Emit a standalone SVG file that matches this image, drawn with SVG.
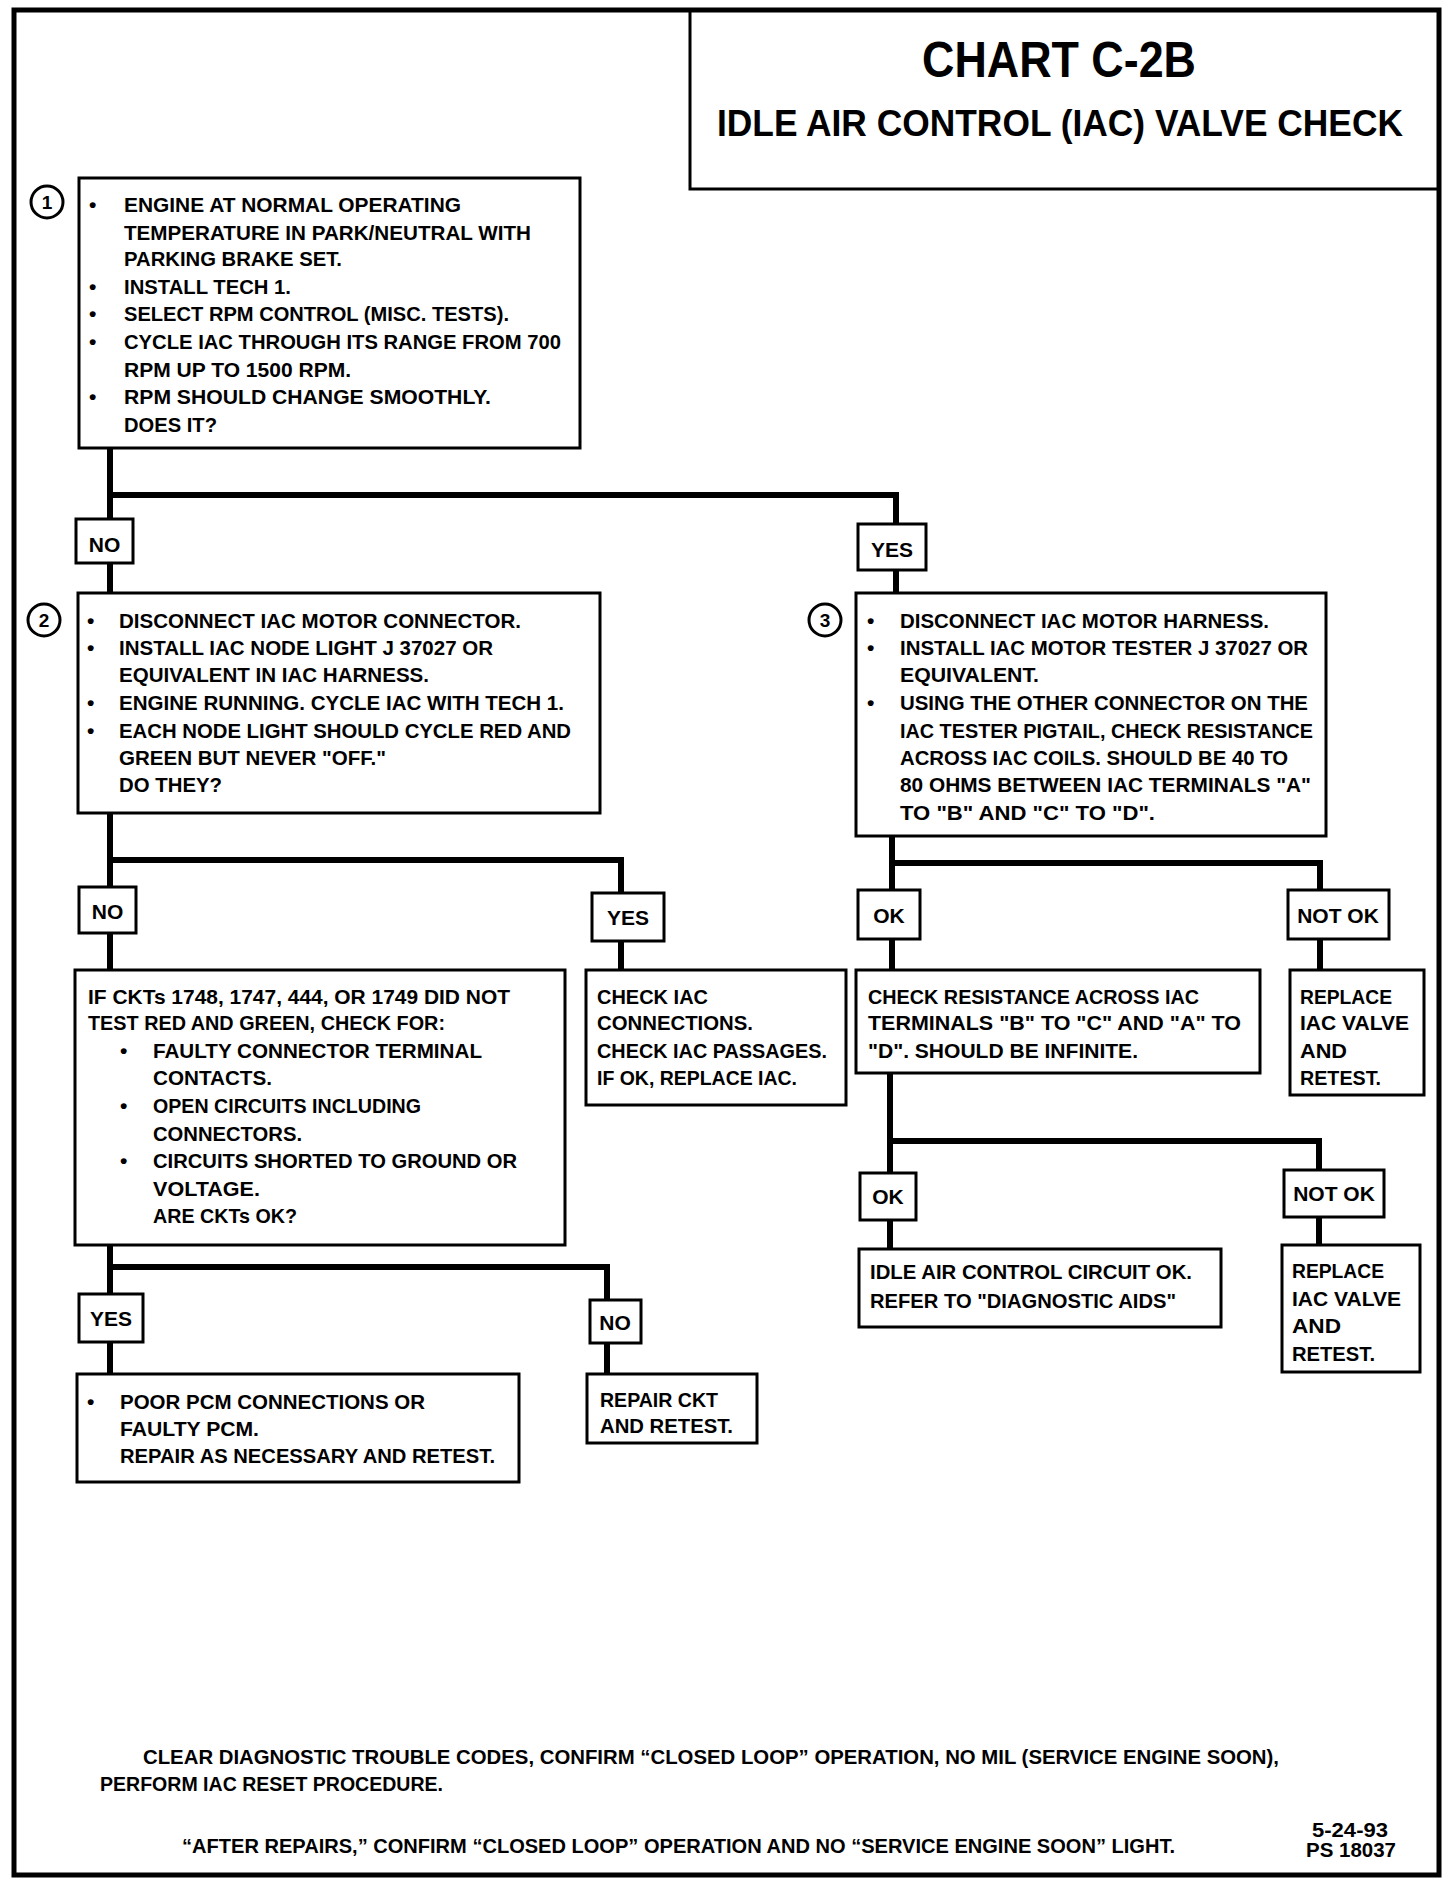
<svg xmlns="http://www.w3.org/2000/svg" width="1456" height="1884" viewBox="0 0 1456 1884">
<style>
.bg{fill:#fff}
.frame{fill:none;stroke:#000;stroke-width:5}
.box{fill:#fff;stroke:#000;stroke-width:3}
.wire{fill:none;stroke:#000;stroke-width:6;stroke-linejoin:miter}
.t{font-family:"Liberation Sans",Arial,sans-serif;font-weight:bold;font-size:21px;fill:#000}
.lab{font-family:"Liberation Sans",Arial,sans-serif;font-weight:bold;font-size:21px;fill:#000;text-anchor:middle}
.num{font-family:"Liberation Sans",Arial,sans-serif;font-weight:bold;font-size:19px;fill:#000;text-anchor:middle}
.ring{fill:#fff;stroke:#000;stroke-width:3}
.title{font-family:"Liberation Sans",Arial,sans-serif;font-weight:bold;fill:#000;text-anchor:middle}
</style>
<rect class="bg" x="0" y="0" width="1456" height="1884"/>
<rect class="frame" x="14" y="10" width="1425" height="1865"/>

<g id="title">
<path d="M690 10 V189 H1439" class="frame" style="stroke-width:3"/>
<text class="title" x="1059" y="77" font-size="50" textLength="274" lengthAdjust="spacingAndGlyphs">CHART C-2B</text>
<text class="title" x="1060" y="136" font-size="37" textLength="686" lengthAdjust="spacingAndGlyphs">IDLE AIR CONTROL (IAC) VALVE CHECK</text>
</g>

<g id="connectors">
<path class="wire" d="M110 448 V520 M110 495 H896 V526 M110 563 V593 M896 569 V593"/>
<path class="wire" d="M110 813 V887 M110 860 H621 V893 M110 933 V970 M621 941 V970"/>
<path class="wire" d="M892 836 V890 M892 863 H1320 V890 M892 939 V970 M1320 939 V970"/>
<path class="wire" d="M890 1073 V1173 M890 1141 H1319 V1170 M890 1220 V1249 M1319 1217 V1245"/>
<path class="wire" d="M110 1245 V1294 M110 1267 H607 V1300 M110 1342 V1374 M607 1343 V1374"/>
</g>

<g id="n1">
<circle class="ring" cx="47" cy="202" r="16"/>
<text class="num" x="47" y="209">1</text>
<rect class="box" x="79" y="178" width="501" height="270"/>
<text class="t" x="89" y="212">•</text><text class="t" x="124" y="212" textLength="337" lengthAdjust="spacingAndGlyphs">ENGINE AT NORMAL OPERATING</text>
<text class="t" x="124" y="239.5" textLength="407" lengthAdjust="spacingAndGlyphs">TEMPERATURE IN PARK/NEUTRAL WITH</text>
<text class="t" x="124" y="266" textLength="218" lengthAdjust="spacingAndGlyphs">PARKING BRAKE SET.</text>
<text class="t" x="89" y="293.6">•</text><text class="t" x="124" y="293.6" textLength="167" lengthAdjust="spacingAndGlyphs">INSTALL TECH 1.</text>
<text class="t" x="89" y="321">•</text><text class="t" x="124" y="321" textLength="385" lengthAdjust="spacingAndGlyphs">SELECT RPM CONTROL  (MISC. TESTS).</text>
<text class="t" x="89" y="349">•</text><text class="t" x="124" y="349" textLength="437" lengthAdjust="spacingAndGlyphs">CYCLE IAC THROUGH ITS RANGE FROM 700</text>
<text class="t" x="124" y="376.6" textLength="227" lengthAdjust="spacingAndGlyphs">RPM UP TO 1500 RPM.</text>
<text class="t" x="89" y="404">•</text><text class="t" x="124" y="404" textLength="367" lengthAdjust="spacingAndGlyphs">RPM SHOULD CHANGE SMOOTHLY.</text>
<text class="t" x="124" y="432" textLength="93" lengthAdjust="spacingAndGlyphs">DOES IT?</text>
</g>

<g id="l-no1"><rect class="box" x="76" y="519" width="57" height="44"/><text class="lab" x="104.5" y="552">NO</text></g>
<g id="l-yes1"><rect class="box" x="858" y="524" width="68" height="46"/><text class="lab" x="892" y="557">YES</text></g>

<g id="n2">
<circle class="ring" cx="44" cy="620" r="16"/>
<text class="num" x="44" y="627">2</text>
<rect class="box" x="78" y="593" width="522" height="220"/>
<text class="t" x="87" y="628">•</text><text class="t" x="119" y="628" textLength="402" lengthAdjust="spacingAndGlyphs">DISCONNECT IAC MOTOR CONNECTOR.</text>
<text class="t" x="87" y="654.6">•</text><text class="t" x="119" y="654.6" textLength="374" lengthAdjust="spacingAndGlyphs">INSTALL IAC NODE LIGHT J 37027 OR</text>
<text class="t" x="119" y="682" textLength="310" lengthAdjust="spacingAndGlyphs">EQUIVALENT IN IAC HARNESS.</text>
<text class="t" x="87" y="710">•</text><text class="t" x="119" y="710" textLength="445" lengthAdjust="spacingAndGlyphs">ENGINE RUNNING.  CYCLE IAC WITH TECH 1.</text>
<text class="t" x="87" y="737.6">•</text><text class="t" x="119" y="737.6" textLength="452" lengthAdjust="spacingAndGlyphs">EACH NODE LIGHT SHOULD CYCLE RED AND</text>
<text class="t" x="119" y="765" textLength="267" lengthAdjust="spacingAndGlyphs">GREEN BUT NEVER "OFF."</text>
<text class="t" x="119" y="792" textLength="103" lengthAdjust="spacingAndGlyphs">DO THEY?</text>
</g>

<g id="n3">
<circle class="ring" cx="825" cy="620" r="16"/>
<text class="num" x="825" y="627">3</text>
<rect class="box" x="856" y="593" width="470" height="243"/>
<text class="t" x="867" y="628">•</text><text class="t" x="900" y="628" textLength="369" lengthAdjust="spacingAndGlyphs">DISCONNECT IAC MOTOR HARNESS.</text>
<text class="t" x="867" y="654.6">•</text><text class="t" x="900" y="654.6" textLength="408" lengthAdjust="spacingAndGlyphs">INSTALL IAC MOTOR TESTER J 37027 OR</text>
<text class="t" x="900" y="682" textLength="139" lengthAdjust="spacingAndGlyphs">EQUIVALENT.</text>
<text class="t" x="867" y="710">•</text><text class="t" x="900" y="710" textLength="408" lengthAdjust="spacingAndGlyphs">USING THE OTHER CONNECTOR ON THE</text>
<text class="t" x="900" y="737.6" textLength="413" lengthAdjust="spacingAndGlyphs">IAC TESTER PIGTAIL, CHECK RESISTANCE</text>
<text class="t" x="900" y="765" textLength="388" lengthAdjust="spacingAndGlyphs">ACROSS IAC COILS.  SHOULD BE 40 TO</text>
<text class="t" x="900" y="792" textLength="411" lengthAdjust="spacingAndGlyphs">80 OHMS BETWEEN IAC TERMINALS "A"</text>
<text class="t" x="900" y="819.5" textLength="255" lengthAdjust="spacingAndGlyphs">TO "B" AND "C" TO "D".</text>
</g>

<g id="l-no2"><rect class="box" x="79" y="887" width="57" height="46"/><text class="lab" x="107.5" y="919">NO</text></g>
<g id="l-yes2"><rect class="box" x="592" y="893" width="72" height="48"/><text class="lab" x="628" y="925">YES</text></g>
<g id="l-ok1"><rect class="box" x="858" y="890" width="62" height="49"/><text class="lab" x="889" y="923">OK</text></g>
<g id="l-notok1"><rect class="box" x="1288" y="890" width="101" height="49"/><text class="lab" x="1338" y="923">NOT OK</text></g>

<g id="n4">
<rect class="box" x="75" y="970" width="490" height="275"/>
<text class="t" x="88" y="1003.5" textLength="422" lengthAdjust="spacingAndGlyphs">IF CKTs 1748, 1747, 444, OR 1749 DID NOT</text>
<text class="t" x="88" y="1030" textLength="357" lengthAdjust="spacingAndGlyphs">TEST RED AND GREEN, CHECK FOR:</text>
<text class="t" x="120" y="1058">•</text><text class="t" x="153" y="1058" textLength="329" lengthAdjust="spacingAndGlyphs">FAULTY CONNECTOR TERMINAL</text>
<text class="t" x="153" y="1085" textLength="119" lengthAdjust="spacingAndGlyphs">CONTACTS.</text>
<text class="t" x="120" y="1113">•</text><text class="t" x="153" y="1113" textLength="268" lengthAdjust="spacingAndGlyphs">OPEN CIRCUITS INCLUDING</text>
<text class="t" x="153" y="1141" textLength="149" lengthAdjust="spacingAndGlyphs">CONNECTORS.</text>
<text class="t" x="120" y="1168">•</text><text class="t" x="153" y="1168" textLength="364" lengthAdjust="spacingAndGlyphs">CIRCUITS SHORTED TO GROUND OR</text>
<text class="t" x="153" y="1196" textLength="107" lengthAdjust="spacingAndGlyphs">VOLTAGE.</text>
<text class="t" x="153" y="1222.6" textLength="144" lengthAdjust="spacingAndGlyphs">ARE CKTs OK?</text>
</g>

<g id="n5">
<rect class="box" x="586" y="970" width="260" height="135"/>
<text class="t" x="597" y="1003.5" textLength="111" lengthAdjust="spacingAndGlyphs">CHECK IAC</text>
<text class="t" x="597" y="1030" textLength="156" lengthAdjust="spacingAndGlyphs">CONNECTIONS.</text>
<text class="t" x="597" y="1058" textLength="230" lengthAdjust="spacingAndGlyphs">CHECK IAC PASSAGES.</text>
<text class="t" x="597" y="1085" textLength="200" lengthAdjust="spacingAndGlyphs">IF OK, REPLACE IAC.</text>
</g>

<g id="n6">
<rect class="box" x="856" y="970" width="404" height="103"/>
<text class="t" x="868" y="1003.5" textLength="331" lengthAdjust="spacingAndGlyphs">CHECK RESISTANCE ACROSS IAC</text>
<text class="t" x="868" y="1030" textLength="373" lengthAdjust="spacingAndGlyphs">TERMINALS "B" TO "C" AND "A" TO</text>
<text class="t" x="868" y="1058" textLength="270" lengthAdjust="spacingAndGlyphs">"D".  SHOULD BE INFINITE.</text>
</g>

<g id="n7">
<rect class="box" x="1290" y="970" width="134" height="125"/>
<text class="t" x="1300" y="1003.5" textLength="92" lengthAdjust="spacingAndGlyphs">REPLACE</text>
<text class="t" x="1300" y="1030" textLength="109" lengthAdjust="spacingAndGlyphs">IAC VALVE</text>
<text class="t" x="1300" y="1058" textLength="47" lengthAdjust="spacingAndGlyphs">AND</text>
<text class="t" x="1300" y="1085" textLength="81" lengthAdjust="spacingAndGlyphs">RETEST.</text>
</g>

<g id="l-ok2"><rect class="box" x="860" y="1173" width="56" height="47"/><text class="lab" x="888" y="1204">OK</text></g>
<g id="l-notok2"><rect class="box" x="1284" y="1170" width="100" height="47"/><text class="lab" x="1334" y="1201">NOT OK</text></g>

<g id="n8">
<rect class="box" x="859" y="1249" width="362" height="78"/>
<text class="t" x="870" y="1279" textLength="322" lengthAdjust="spacingAndGlyphs">IDLE AIR CONTROL CIRCUIT OK.</text>
<text class="t" x="870" y="1308" textLength="306" lengthAdjust="spacingAndGlyphs">REFER TO "DIAGNOSTIC AIDS"</text>
</g>

<g id="n9">
<rect class="box" x="1282" y="1245" width="138" height="127"/>
<text class="t" x="1292" y="1278" textLength="92" lengthAdjust="spacingAndGlyphs">REPLACE</text>
<text class="t" x="1292" y="1305.6" textLength="109" lengthAdjust="spacingAndGlyphs">IAC VALVE</text>
<text class="t" x="1292" y="1333" textLength="49" lengthAdjust="spacingAndGlyphs">AND</text>
<text class="t" x="1292" y="1361" textLength="83" lengthAdjust="spacingAndGlyphs">RETEST.</text>
</g>

<g id="l-yes3"><rect class="box" x="79" y="1294" width="64" height="48"/><text class="lab" x="111" y="1326">YES</text></g>
<g id="l-no3"><rect class="box" x="590" y="1300" width="51" height="43"/><text class="lab" x="615" y="1330">NO</text></g>

<g id="n10">
<rect class="box" x="77" y="1374" width="442" height="108"/>
<text class="t" x="87" y="1409">•</text><text class="t" x="120" y="1409" textLength="305" lengthAdjust="spacingAndGlyphs">POOR PCM CONNECTIONS OR</text>
<text class="t" x="120" y="1435.6" textLength="139" lengthAdjust="spacingAndGlyphs">FAULTY PCM.</text>
<text class="t" x="120" y="1463" textLength="375" lengthAdjust="spacingAndGlyphs">REPAIR AS NECESSARY AND RETEST.</text>
</g>

<g id="n11">
<rect class="box" x="587" y="1374" width="170" height="69"/>
<text class="t" x="600" y="1406.6" textLength="118" lengthAdjust="spacingAndGlyphs">REPAIR CKT</text>
<text class="t" x="600" y="1433" textLength="133" lengthAdjust="spacingAndGlyphs">AND RETEST.</text>
</g>

<g id="footer">
<text class="t" x="143" y="1764" textLength="1136" lengthAdjust="spacingAndGlyphs">CLEAR DIAGNOSTIC TROUBLE CODES, CONFIRM “CLOSED LOOP” OPERATION, NO MIL (SERVICE ENGINE SOON),</text>
<text class="t" x="100" y="1791" textLength="343" lengthAdjust="spacingAndGlyphs">PERFORM IAC RESET PROCEDURE.</text>
<text class="t" x="182" y="1853" textLength="993" lengthAdjust="spacingAndGlyphs">“AFTER REPAIRS,” CONFIRM “CLOSED LOOP” OPERATION AND NO “SERVICE ENGINE SOON” LIGHT.</text>
<text class="lab" x="1350" y="1837" textLength="76" lengthAdjust="spacingAndGlyphs">5-24-93</text>
<text class="lab" x="1351" y="1857" textLength="90" lengthAdjust="spacingAndGlyphs">PS 18037</text>
</g>
</svg>
